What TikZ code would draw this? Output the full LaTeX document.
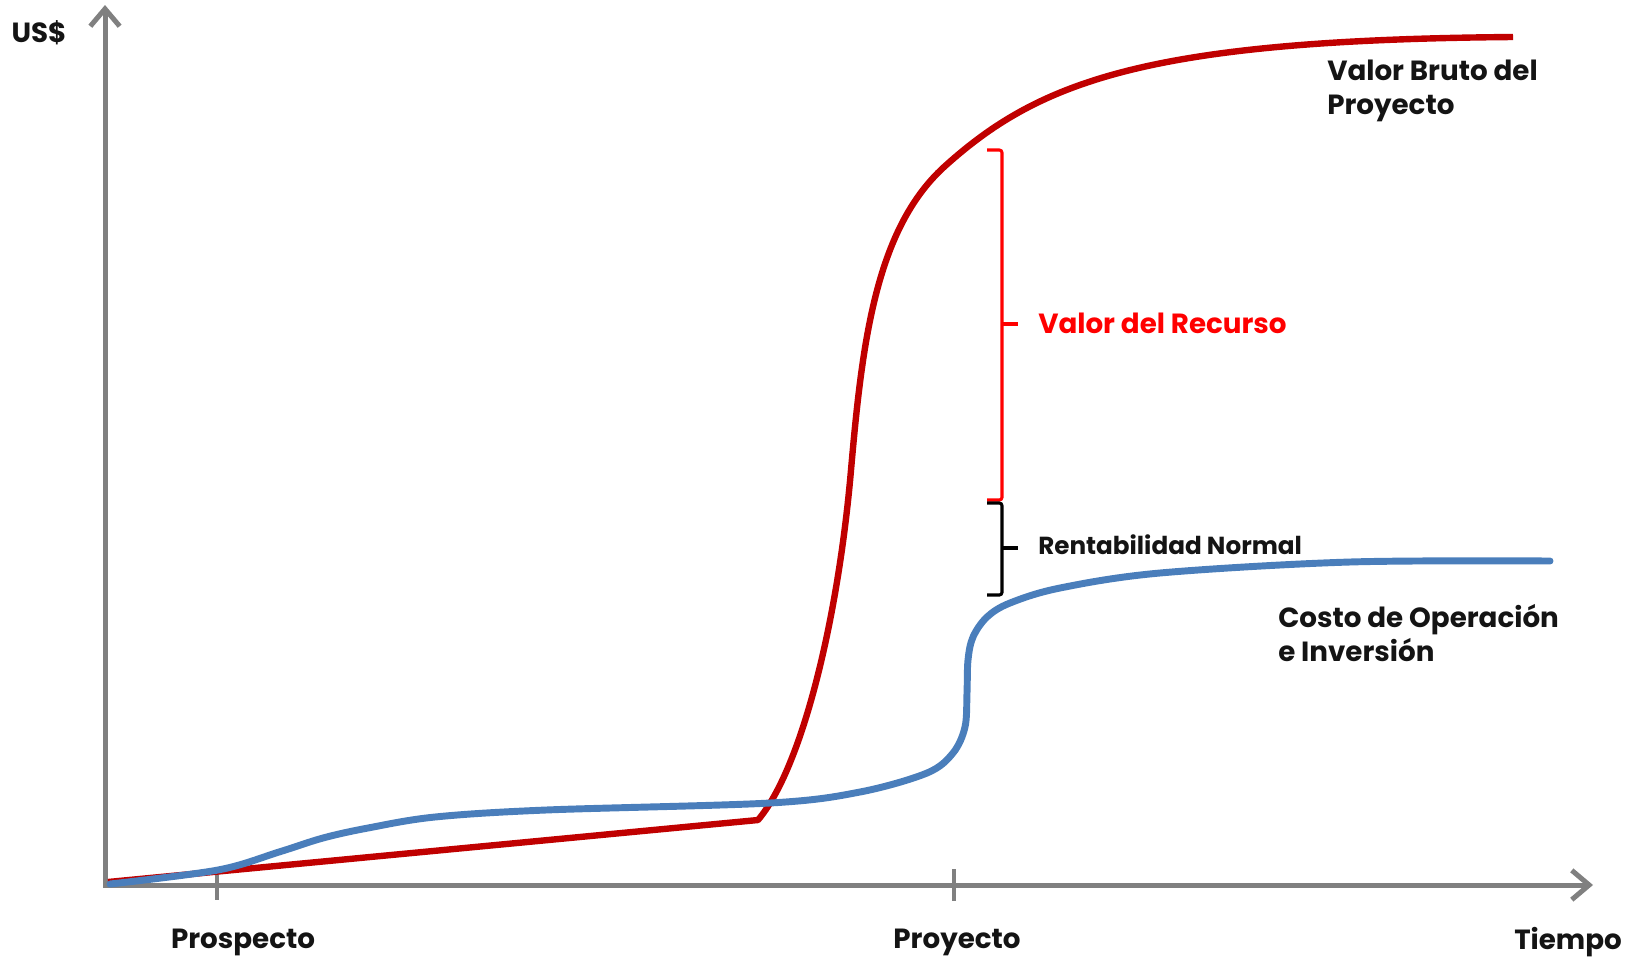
\documentclass[tikz,border=0pt]{standalone}
\usepackage{fontspec}
\setmainfont{Poppins}
\usetikzlibrary{arrows.meta}
\definecolor{axisgray}{RGB}{128,128,128}
\definecolor{curvered}{RGB}{192,0,0}
\definecolor{curveblue}{RGB}{74,126,187}
\definecolor{brred}{RGB}{255,0,0}
\definecolor{txt}{RGB}{20,20,20}
\begin{document}
\begin{tikzpicture}[x=0.75pt,y=-0.75pt,
  axis/.style={draw=axisgray,line width=3.75pt},
  tick/.style={draw=axisgray,line width=3.4pt},
  lbl/.style={font=\bfseries\fontsize{20.8}{26}\selectfont,text=txt,inner sep=0pt},
  smalllbl/.style={font=\bfseries\fontsize{18.5}{22}\selectfont,text=txt,inner sep=0pt},
  redcurve/.style={draw=curvered,line width=4.8pt,line join=round},
  bluecurve/.style={draw=curveblue,line width=5.2pt,line join=round,line cap=round},
  bracketline/.style={line width=2.3pt,rounded corners=2pt}]
\useasboundingbox (0,0) rectangle (1635,957);
% axes
\coordinate (ytip) at (105,5);
\coordinate (orig) at (105,885);
\coordinate (xtip) at (1593,885);
\draw[axis,line join=miter,{Straight Barb[length=13pt,width=22pt]}-{Straight Barb[length=13pt,width=22pt]}] (ytip) -- (orig) -- (xtip);
\coordinate (t1a) at (217,870); \coordinate (t1b) at (217,900);
\coordinate (t2a) at (954,869); \coordinate (t2b) at (954,901);
\draw[tick] (t1a) -- (t1b);
\draw[tick] (t2a) -- (t2b);
% red curve
\draw[redcurve] (108,882) -- (758,820)
  .. controls (802,768) and (838,620) .. (851,470)
  .. controls (862,345) and (875,230) .. (944,167)
  .. controls (1040,80) and (1150,40) .. (1513,37);
% blue curve
\draw[bluecurve] plot[smooth,tension=0.55] coordinates {(110,884) (218,870) (279,852) (323,838) (368,828) (435,817) (546,810) (770,803) (860,792) (927,773) (953,753) (965,727) (967,693) (968,660) (973,637) (987,617) (1010,603) (1060,588) (1160,573) (1350,562) (1550,561)};
% brackets
\draw[bracketline,draw=brred] (987,150) -- (1002,150) -- (1002,500) -- (987,500);
\draw[bracketline,draw=brred] (1002,324) -- (1018,324);
\draw[bracketline,draw=black] (987,503) -- (1002,503) -- (1002,595) -- (987,595);
\draw[bracketline,draw=black] (1002,548) -- (1018,548);
% labels
\node[lbl] (us) at (39,33) {US\$};
\node[lbl] (prosp) at (243,942) {Prospecto};
\node[lbl] (proy) at (957,942) {Proyecto};
\node[lbl] (tiempo) at (1568,942) {Tiempo};
\node[lbl,anchor=west,align=left] (vbp) at (1327,91) {Valor Bruto del\\Proyecto};
\node[lbl,anchor=west,text=brred] (vr) at (1038,323) {Valor del Recurso};
\node[smalllbl,anchor=west] (rn) at (1038,545) {Rentabilidad Normal};
\node[lbl,anchor=west,align=left] (coi) at (1278,633) {Costo de Operación\\e Inversión};
\end{tikzpicture}
\end{document}
